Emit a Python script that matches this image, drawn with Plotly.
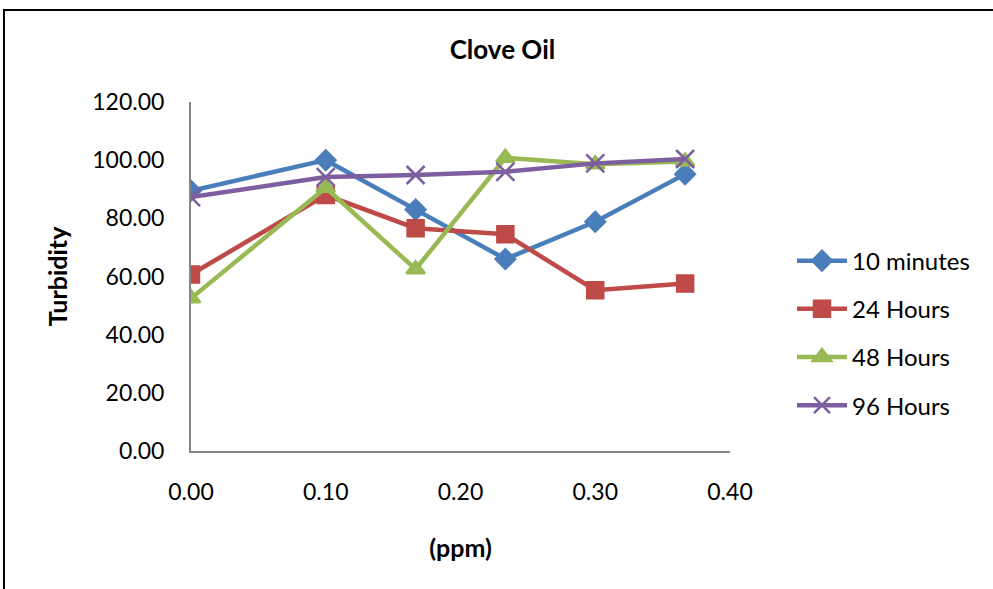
import plotly.graph_objects as go

ppm = [0.0, 0.1, 0.1667, 0.2333, 0.3, 0.3667]
series_names = ["10 minutes", "24 Hours", "48 Hours", "96 Hours"]
min10 = [89.5, 100.0, 83.0, 66.0, 78.8, 95.2]
h24 = [60.7, 88.0, 76.6, 74.5, 55.3, 57.6]
h48 = [52.5, 90.5, 62.5, 100.8, 98.6, 99.5]
h96 = [87.3, 94.2, 94.9, 96.0, 98.9, 100.4]
x_ticks = [0.0, 0.1, 0.2, 0.3, 0.4]
y_ticks = [0, 20, 40, 60, 80, 100, 120]

colors = ["#4A7EBB", "#BE4B48", "#98B954", "#7D5FA0"]
symbols = ["diamond", "square", "triangle-up", "x-thin"]
sizes = [15, 16, 16, 18]

fig = go.Figure()
for name, ys, c, s, sz in zip(series_names, [min10, h24, h48, h96], colors, symbols, sizes):
    fig.add_trace(go.Scatter(
        x=ppm, y=ys, name=name, mode="lines+markers", legendgroup=name,
        line=dict(color=c, width=4.5),
        marker=dict(symbol=s, size=sz, color=c, line=dict(color=c, width=2.5)),
    ))

font_family = "Lato, 'Open Sans', sans-serif"
fig.update_layout(
    width=993, height=589,
    paper_bgcolor="white", plot_bgcolor="white",
    margin=dict(l=191, r=263, t=102, b=138),
    title=dict(text="<b>Clove Oil</b>", x=0.506, xanchor="center", y=0.915, yanchor="middle",
               font=dict(family=font_family, size=26, color="black")),
    font=dict(family=font_family, color="black"),
    legend=dict(x=1.115, y=0.338, xanchor="left", yanchor="middle",
                font=dict(size=24, color="black"), tracegroupgap=14,
                itemwidth=50, bgcolor="rgba(0,0,0,0)"),
    showlegend=True,
    shapes=[dict(type="rect", xref="paper", yref="paper",
                 x0=-0.347, x1=1.52, y0=-0.42, y1=1.2636,
                 line=dict(color="black", width=2))],
)
fig.update_xaxes(
    range=[0, 0.4], tickvals=x_ticks, ticktext=[f"{v:.2f}" for v in x_ticks],
    showgrid=False, zeroline=False, showline=True, linecolor="#878787", linewidth=2,
    ticks="", tickfont=dict(size=23, color="black"), ticklabelstandoff=19,
    title=dict(text="<b>(ppm)</b>", font=dict(size=25, color="black"), standoff=36),
)
fig.update_yaxes(
    range=[0, 120], tickvals=y_ticks, ticktext=[f"{v:.2f}" for v in y_ticks],
    showgrid=False, zeroline=False, showline=True, linecolor="#878787", linewidth=2,
    ticks="", tickfont=dict(size=23, color="black"), ticklabelstandoff=20,
    title=dict(text="<b>Turbidity</b>", font=dict(size=25, color="black"), standoff=18),
)

fig.write_html("out.html")
